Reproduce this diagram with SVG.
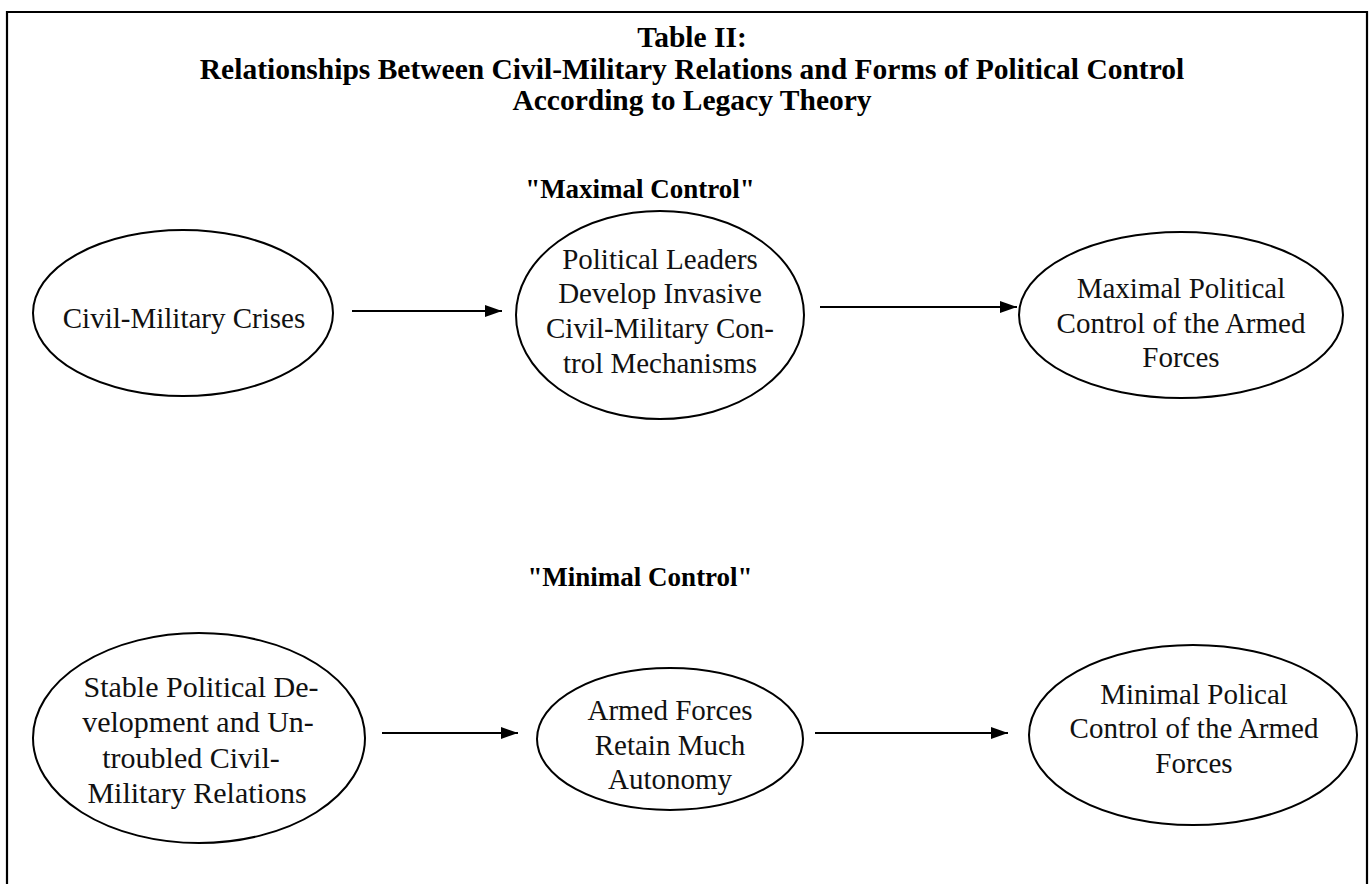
<svg xmlns="http://www.w3.org/2000/svg" width="1370" height="884" viewBox="0 0 1370 884">
<style>
.frame{fill:none;stroke:#000;stroke-width:2.2}
.node ellipse{fill:#fff;stroke:#000;stroke-width:2}
text{font-family:"Liberation Serif","Times New Roman","DejaVu Serif",serif;fill:#111;text-anchor:middle}
.t{font-size:29px}
.p{font-size:30px}
.h{font-size:29.5px;font-weight:bold;fill:#000}
.s{font-size:27px;font-weight:bold;fill:#000}
.edge{stroke:#000;stroke-width:2;fill:none;marker-end:url(#arr)}
</style>
<defs>
<marker id="arr" viewBox="0 0 17 12" refX="17" refY="6" markerWidth="17" markerHeight="12" markerUnits="userSpaceOnUse" orient="auto">
<path d="M0,0 L17,6 L0,12 z" fill="#000"/>
</marker>
</defs>
<rect width="1370" height="884" fill="#fff"/>
<path class="frame" d="M7,884 L7,12 L1367,12 L1367,884"/>
<g id="title">
<text class="h" x="692" y="47" font-family="Liberation Serif, serif">Table II:</text>
<text class="h" x="692" y="79" font-family="Liberation Serif, serif">Relationships Between Civil-Military Relations and Forms of Political Control</text>
<text class="h" x="692" y="110" font-family="Liberation Serif, serif">According to Legacy Theory</text>
</g>
<g id="heading-max"><text class="s" x="640" y="198" font-family="Liberation Serif, serif">"Maximal Control"</text></g>
<g id="heading-min"><text class="s" x="640" y="586" font-family="Liberation Serif, serif">"Minimal Control"</text></g>
<g id="n1" class="node">
<ellipse cx="183" cy="313" rx="150" ry="83"/>
<text class="t" x="184" y="328" font-family="Liberation Serif, serif">Civil-Military Crises</text>
</g>
<g id="n2" class="node">
<ellipse cx="660" cy="315" rx="144" ry="104"/>
<text class="t" x="660" y="269" font-family="Liberation Serif, serif">Political Leaders</text>
<text class="t" x="660" y="303" font-family="Liberation Serif, serif">Develop Invasive</text>
<text class="t" x="660" y="338" font-family="Liberation Serif, serif">Civil-Military Con-</text>
<text class="t" x="660" y="373" font-family="Liberation Serif, serif">trol Mechanisms</text>
</g>
<g id="n3" class="node">
<ellipse cx="1181" cy="315" rx="162" ry="83"/>
<text class="t" x="1181" y="298" font-family="Liberation Serif, serif">Maximal Political</text>
<text class="t" x="1181" y="333" font-family="Liberation Serif, serif">Control of the Armed</text>
<text class="t" x="1181" y="367" font-family="Liberation Serif, serif">Forces</text>
</g>
<g id="n4" class="node">
<ellipse cx="199" cy="738" rx="166" ry="105"/>
<text class="p" x="201" y="697" font-family="Liberation Serif, serif">Stable Political De-</text>
<text class="p" x="198" y="732" font-family="Liberation Serif, serif">velopment and Un-</text>
<text class="p" x="191" y="768" font-family="Liberation Serif, serif">troubled Civil-</text>
<text class="p" x="197" y="803" font-family="Liberation Serif, serif">Military Relations</text>
</g>
<g id="n5" class="node">
<ellipse cx="670" cy="739" rx="133" ry="71"/>
<text class="t" x="670" y="720" font-family="Liberation Serif, serif">Armed Forces</text>
<text class="t" x="670" y="755" font-family="Liberation Serif, serif">Retain Much</text>
<text class="t" x="670" y="789" font-family="Liberation Serif, serif">Autonomy</text>
</g>
<g id="n6" class="node">
<ellipse cx="1193" cy="735" rx="164" ry="90"/>
<text class="t" x="1194" y="704" font-family="Liberation Serif, serif">Minimal Polical</text>
<text class="t" x="1194" y="738" font-family="Liberation Serif, serif">Control of the Armed</text>
<text class="t" x="1194" y="773" font-family="Liberation Serif, serif">Forces</text>
</g>
<g id="connectors">
<line class="edge" x1="352" y1="311" x2="502" y2="311"/>
<line class="edge" x1="820" y1="307" x2="1017" y2="307"/>
<line class="edge" x1="382" y1="733" x2="518" y2="733"/>
<line class="edge" x1="815" y1="733" x2="1008" y2="733"/>
</g>
</svg>
